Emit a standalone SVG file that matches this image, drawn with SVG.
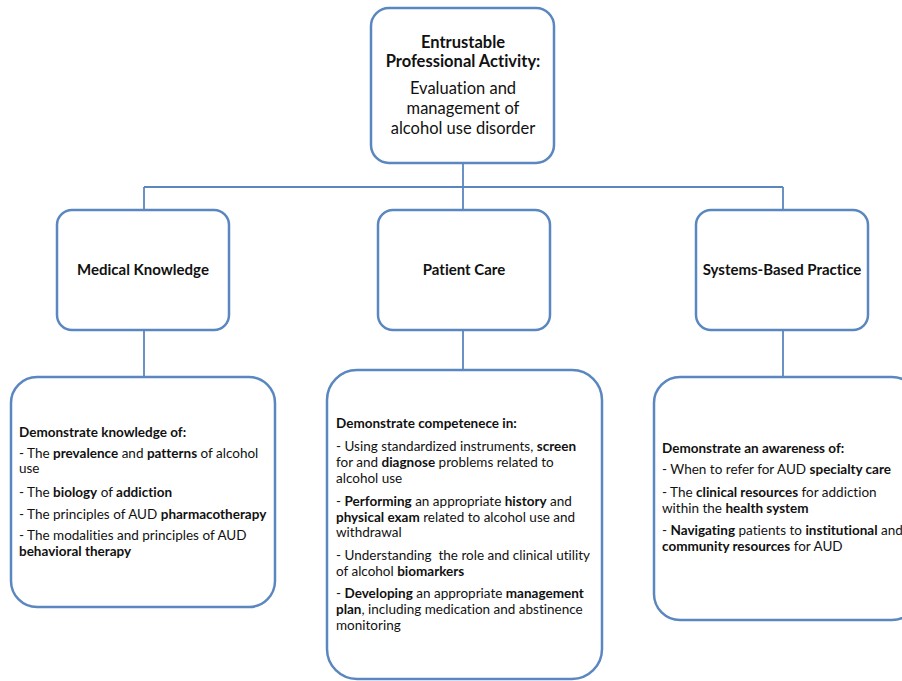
<svg xmlns="http://www.w3.org/2000/svg" width="902" height="681" viewBox="0 0 902 681">
<style>
.box{fill:#fff;stroke:#5b87c0;stroke-width:2.5}
.conn{fill:none;stroke:#5b87c0;stroke-width:1.8}
text{font-family:Lato,"Open Sans","Liberation Sans",sans-serif;fill:#111;font-variant-ligatures:none}
.t{font-size:13.5px}
.h{font-size:16.5px;font-weight:bold;text-anchor:middle}
.e{font-size:16.5px;text-anchor:middle}
.m{font-size:15px;font-weight:bold;text-anchor:middle}
.b{font-weight:bold}
</style>
<rect width="902" height="681" fill="#fff"/>
<g id="connectors">
<path class="conn" d="M463,164 V187 M144,187 H783 M144,187 V210 M463,187 V210 M783,187 V210"/>
<path class="conn" d="M144,330 V377 M463,330 V370 M783,330 V377"/>
</g>
<g id="epa">
<rect class="box" x="371" y="8" width="183" height="155" rx="18"/>
<text class="h" x="463" y="48">Entrustable</text>
<text class="h" x="463" y="67">Professional Activity:</text>
<text class="e" x="463" y="94">Evaluation and</text>
<text class="e" x="463" y="114">management of</text>
<text class="e" x="463" y="134">alcohol use disorder</text>
</g>
<g id="medical-knowledge">
<rect class="box" x="57" y="210" width="172" height="120" rx="15"/>
<text class="m" x="143" y="275">Medical Knowledge</text>
</g>
<g id="patient-care">
<rect class="box" x="378" y="210" width="172" height="120" rx="15"/>
<text class="m" x="464" y="275">Patient Care</text>
</g>
<g id="systems-based-practice">
<rect class="box" x="696" y="210" width="172" height="120" rx="15"/>
<text class="m" x="782" y="275">Systems-Based Practice</text>
</g>
<g id="mk-detail">
<rect class="box" x="11" y="377" width="264" height="230" rx="26"/>
<text class="t" x="19" y="437"><tspan class="b">Demonstrate knowledge of:</tspan></text>
<text class="t" x="19" y="458">- The <tspan class="b">prevalence</tspan> and <tspan class="b">patterns</tspan> of alcohol</text>
<text class="t" x="19" y="473">use</text>
<text class="t" x="19" y="497">- The <tspan class="b">biology</tspan> of <tspan class="b">addiction</tspan></text>
<text class="t" x="19" y="519">- The principles of AUD <tspan class="b">pharmacotherapy</tspan></text>
<text class="t" x="19" y="540">- The modalities and principles of AUD</text>
<text class="t" x="19" y="556"><tspan class="b">behavioral therapy</tspan></text>
</g>
<g id="pc-detail">
<rect class="box" x="327" y="370" width="275" height="309" rx="30"/>
<text class="t" x="336" y="428"><tspan class="b">Demonstrate competenece in:</tspan></text>
<text class="t" x="336" y="451">- Using standardized instruments, <tspan class="b">screen</tspan></text>
<text class="t" x="336" y="467">for and <tspan class="b">diagnose</tspan> problems related to</text>
<text class="t" x="336" y="483">alcohol use</text>
<text class="t" x="336" y="506">- <tspan class="b">Performing</tspan> an appropriate <tspan class="b">history</tspan> and</text>
<text class="t" x="336" y="522"><tspan class="b">physical exam</tspan> related to alcohol use and</text>
<text class="t" x="336" y="537">withdrawal</text>
<text class="t" x="336" y="560" xml:space="preserve">- Understanding  the role and clinical utility</text>
<text class="t" x="336" y="576">of alcohol <tspan class="b">biomarkers</tspan></text>
<text class="t" x="336" y="598">- <tspan class="b">Developing</tspan> an appropriate <tspan class="b">management</tspan></text>
<text class="t" x="336" y="614"><tspan class="b">plan</tspan>, including medication and abstinence</text>
<text class="t" x="336" y="630">monitoring</text>
</g>
<g id="sbp-detail">
<rect class="box" x="654" y="377" width="264" height="243" rx="26"/>
<text class="t" x="662" y="453"><tspan class="b">Demonstrate an awareness of:</tspan></text>
<text class="t" x="662" y="474">- When to refer for AUD <tspan class="b">specialty care</tspan></text>
<text class="t" x="662" y="497">- The <tspan class="b">clinical resources</tspan> for addiction</text>
<text class="t" x="662" y="513">within the <tspan class="b">health system</tspan></text>
<text class="t" x="662" y="535">- <tspan class="b">Navigating</tspan> patients to <tspan class="b">institutional</tspan> and</text>
<text class="t" x="662" y="551"><tspan class="b">community resources</tspan> for AUD</text>
</g>
</svg>
